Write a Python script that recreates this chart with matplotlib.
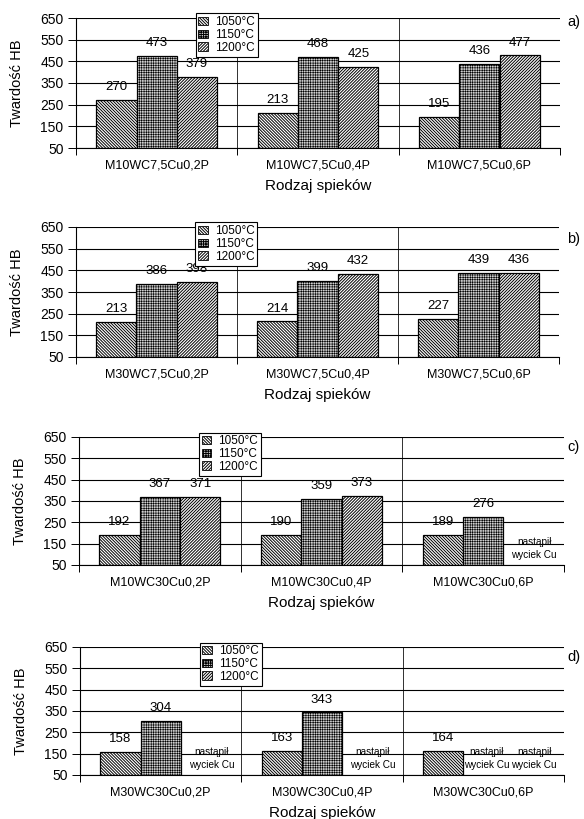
import matplotlib.pyplot as plt
import numpy as np
from matplotlib.patches import Patch

plt.rcParams['font.family'] = ['Liberation Sans', 'DejaVu Sans']
plt.rcParams['hatch.linewidth'] = 0.7
plt.rcParams['hatch.color'] = 'black'

# temperatury spiekania
temps = ['1050°C', '1150°C', '1200°C']

# a)
spieki_a = ['M10WC7,5Cu0,2P', 'M10WC7,5Cu0,4P', 'M10WC7,5Cu0,6P']
hb_a_1050 = [270, 213, 195]
hb_a_1150 = [473, 468, 436]
hb_a_1200 = [379, 425, 477]

# b)
spieki_b = ['M30WC7,5Cu0,2P', 'M30WC7,5Cu0,4P', 'M30WC7,5Cu0,6P']
hb_b_1050 = [213, 214, 227]
hb_b_1150 = [386, 399, 439]
hb_b_1200 = [398, 432, 436]

# c)
spieki_c = ['M10WC30Cu0,2P', 'M10WC30Cu0,4P', 'M10WC30Cu0,6P']
hb_c_1050 = [192, 190, 189]
hb_c_1150 = [367, 359, 276]
hb_c_1200 = [371, 373, None]

# d)
spieki_d = ['M30WC30Cu0,2P', 'M30WC30Cu0,4P', 'M30WC30Cu0,6P']
hb_d_1050 = [158, 163, 164]
hb_d_1150 = [304, 343, None]
hb_d_1200 = [None, None, None]

uwaga = 'nastąpił\nwyciek Cu'

hatches = ['\\' * 11, '+' * 7, '/' * 11]
faces = ['white', '#cfcfcf', 'white']
hatch_lw = [0.7, 0.4, 0.7]
shift = [0.0, 0.02, 0.065]  # przesuniecie napisu "nastapil wyciek Cu"

W, H = 584, 819
fig = plt.figure(figsize=(W / 100, H / 100), dpi=100)


def add_axes(l, t, r, b):
    return fig.add_axes([l / W, 1 - b / H, (r - l) / W, (b - t) / H])


def set_hlw(patch, lw):
    if hasattr(patch, 'set_hatch_linewidth'):
        patch.set_hatch_linewidth(lw)
    else:
        patch._hatch_linewidth = lw


def draw(ax, names, series, tag, tag_y):
    x = np.arange(len(names))
    w = 0.25
    for k, vals in enumerate(series):
        for i, v in enumerate(vals):
            pos = x[i] + (k - 1) * w
            if v is None:
                ax.text(pos + shift[k], 128, uwaga, ha='center', va='center',
                        fontsize=7.2, linespacing=1.45)
                continue
            bars = ax.bar(pos, v - 50, w, bottom=50, facecolor=faces[k],
                          edgecolor='black', lw=0.9, hatch=hatches[k],
                          zorder=2)
            for p in bars:
                set_hlw(p, hatch_lw[k])
            ax.annotate(str(v), (pos, v), xytext=(0, 5),
                        textcoords='offset points', ha='center',
                        va='bottom', fontsize=9.5)

    ax.set_xlim(-0.5, 2.5)
    ax.set_ylim(50, 650)
    ax.set_yticks(range(50, 651, 100))
    ax.yaxis.grid(True, color='black', lw=0.8)
    ax.set_axisbelow(True)
    for s in [0.5, 1.5]:
        ax.axvline(s, color='#303030', lw=0.7, zorder=0.5)

    ax.set_xticks([-0.5, 0.5, 1.5, 2.5])
    ax.set_xticklabels([])
    ax.set_xticks(x, minor=True)
    ax.set_xticklabels(names, minor=True, fontsize=9)
    ax.tick_params(axis='x', which='major', length=5, width=0.7)
    ax.tick_params(axis='x', which='minor', length=0, pad=8.5)
    ax.tick_params(axis='y', length=5.5, width=0.7, pad=3.5, labelsize=10)

    for sp in ['top', 'right']:
        ax.spines[sp].set_visible(False)
    for sp in ['left', 'bottom']:
        ax.spines[sp].set_linewidth(0.8)

    ax.set_ylabel('Twardość HB', fontsize=10.5)
    ax.yaxis.set_label_coords(-0.108, 0.5)
    ax.set_xlabel('Rodzaj spieków', fontsize=11, labelpad=5)

    handles = []
    for k in range(3):
        h = Patch(facecolor=faces[k], edgecolor='black', lw=0.6,
                  hatch=hatches[k])
        set_hlw(h, hatch_lw[k])
        handles.append(h)
    leg = ax.legend(handles, temps, loc='upper left',
                    bbox_to_anchor=(0.247, 1.035), fontsize=8.5,
                    frameon=True, fancybox=False, framealpha=1,
                    edgecolor='black', borderpad=0.25, labelspacing=0.05,
                    handlelength=0.8, handleheight=0.7, handletextpad=0.6,
                    borderaxespad=0)
    leg.get_frame().set_linewidth(0.8)
    leg.set_zorder(5)

    fig.text(567 / W, 1 - tag_y / H, tag, ha='left', va='center',
             fontsize=10.5)


ax_a = add_axes(76, 18, 560, 148)
draw(ax_a, spieki_a, [hb_a_1050, hb_a_1150, hb_a_1200], 'a)', 22)

ax_b = add_axes(76, 227, 559, 357)
draw(ax_b, spieki_b, [hb_b_1050, hb_b_1150, hb_b_1200], 'b)', 239)

ax_c = add_axes(79, 437, 564, 565)
draw(ax_c, spieki_c, [hb_c_1050, hb_c_1150, hb_c_1200], 'c)', 447)

ax_d = add_axes(80, 647, 564, 775)
draw(ax_d, spieki_d, [hb_d_1050, hb_d_1150, hb_d_1200], 'd)', 657)

fig.savefig('out.png', dpi=100)
